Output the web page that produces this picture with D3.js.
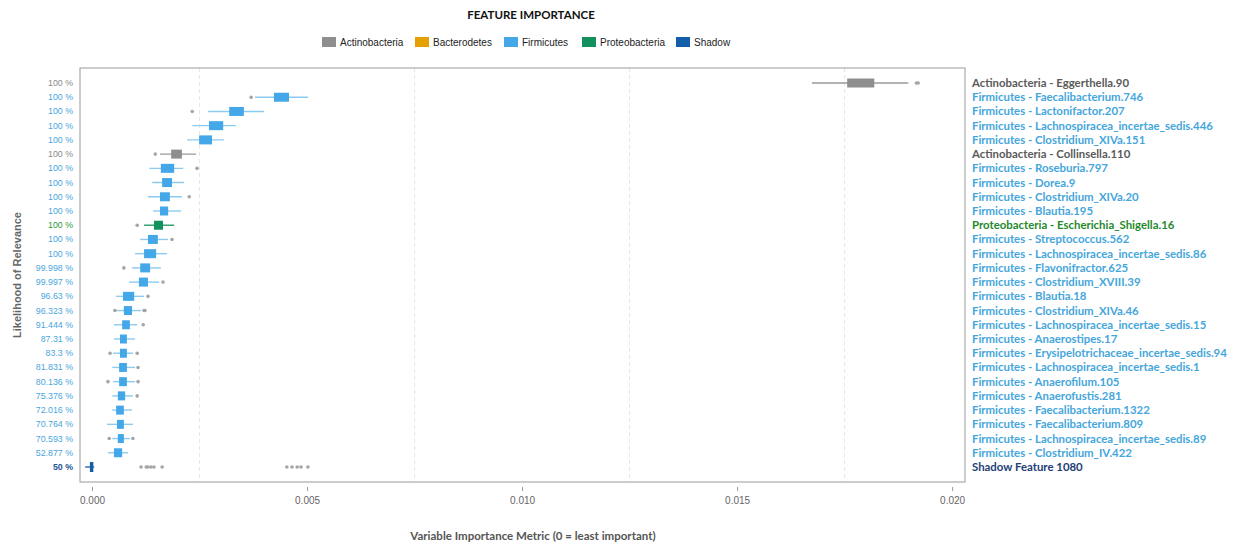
<!DOCTYPE html>
<html>
<head>
<meta charset="utf-8">
<script src="https://cdn.jsdelivr.net/npm/d3@7"></script>
<style>
  body { margin: 0; background: #fff; }
  svg { display: block; }
</style>
</head>
<body>
<svg id="chart" width="1238" height="543"></svg>
<script>
// ---------- DATA ----------
const features = [
  "Actinobacteria - Eggerthella.90",
  "Firmicutes - Faecalibacterium.746",
  "Firmicutes - Lactonifactor.207",
  "Firmicutes - Lachnospiracea_incertae_sedis.446",
  "Firmicutes - Clostridium_XIVa.151",
  "Actinobacteria - Collinsella.110",
  "Firmicutes - Roseburia.797",
  "Firmicutes - Dorea.9",
  "Firmicutes - Clostridium_XIVa.20",
  "Firmicutes - Blautia.195",
  "Proteobacteria - Escherichia_Shigella.16",
  "Firmicutes - Streptococcus.562",
  "Firmicutes - Lachnospiracea_incertae_sedis.86",
  "Firmicutes - Flavonifractor.625",
  "Firmicutes - Clostridium_XVIII.39",
  "Firmicutes - Blautia.18",
  "Firmicutes - Clostridium_XIVa.46",
  "Firmicutes - Lachnospiracea_incertae_sedis.15",
  "Firmicutes - Anaerostipes.17",
  "Firmicutes - Erysipelotrichaceae_incertae_sedis.94",
  "Firmicutes - Lachnospiracea_incertae_sedis.1",
  "Firmicutes - Anaerofilum.105",
  "Firmicutes - Anaerofustis.281",
  "Firmicutes - Faecalibacterium.1322",
  "Firmicutes - Faecalibacterium.809",
  "Firmicutes - Lachnospiracea_incertae_sedis.89",
  "Firmicutes - Clostridium_IV.422",
  "Shadow Feature 1080"
];
const phylum = [
  "Actinobacteria","Firmicutes","Firmicutes","Firmicutes","Firmicutes",
  "Actinobacteria","Firmicutes","Firmicutes","Firmicutes","Firmicutes",
  "Proteobacteria","Firmicutes","Firmicutes","Firmicutes","Firmicutes",
  "Firmicutes","Firmicutes","Firmicutes","Firmicutes","Firmicutes",
  "Firmicutes","Firmicutes","Firmicutes","Firmicutes","Firmicutes",
  "Firmicutes","Firmicutes","Shadow"
];
const relevance = [
  "100 %","100 %","100 %","100 %","100 %","100 %","100 %","100 %","100 %","100 %",
  "100 %","100 %","100 %","99.998 %","99.997 %","96.63 %","96.323 %","91.444 %",
  "87.31 %","83.3 %","81.831 %","80.136 %","75.376 %","72.016 %","70.764 %",
  "70.593 %","52.877 %","50 %"
];
// box statistics (units of 0.001)
const whiskerLow  = [16.74,3.79,2.70,2.33,2.21,1.58,1.33,1.40,1.30,1.42,1.21,1.12,1.00,0.93,0.86,0.56,0.56,0.51,0.51,0.49,0.47,0.49,0.47,0.47,0.35,0.47,0.37,-0.16];
const quart1      = [17.56,4.23,3.19,2.72,2.49,1.84,1.60,1.63,1.58,1.58,1.44,1.30,1.21,1.12,1.09,0.72,0.74,0.70,0.65,0.65,0.63,0.63,0.60,0.56,0.58,0.60,0.51,-0.05];
const quart3      = [18.19,4.58,3.53,3.05,2.79,2.09,1.91,1.86,1.81,1.77,1.65,1.53,1.49,1.35,1.30,0.98,0.93,0.88,0.81,0.81,0.81,0.81,0.77,0.74,0.74,0.74,0.70,0.03];
const whiskerHigh = [18.98,5.02,4.00,3.35,3.07,2.42,2.12,2.14,2.09,2.07,1.91,1.77,1.74,1.60,1.56,1.21,1.14,1.05,1.00,0.95,1.00,1.00,0.95,0.93,0.95,0.88,0.84,0.05];
const outliers = [
  [19.17,19.21],[3.70],[2.33],[],[],[1.47],[2.44],[],[2.26],[],
  [1.05],[1.86],[],[0.74],[1.65],[1.30],[0.53,1.21,1.23],[1.19],[],[0.42,1.05],
  [1.07],[0.37,1.07],[1.05],[],[],[0.40,0.95],[],
  [1.14,1.26,1.30,1.37,1.44,1.63,4.53,4.65,4.77,4.86,5.02]
];
const xTicks = [0, 0.005, 0.010, 0.015, 0.020];
const gridTicks = [0.0025, 0.0075, 0.0125, 0.0175];
const legendItems = ["Actinobacteria","Bacterodetes","Firmicutes","Proteobacteria","Shadow"];

// ---------- STYLE ----------
const boxFill  = {Actinobacteria:"#8e8e8e", Bacterodetes:"#e69f00", Firmicutes:"#44a7e8", Proteobacteria:"#12915f", Shadow:"#125ea8"};
const whiskCol = {Actinobacteria:"#9a9a9a", Bacterodetes:"#e69f00", Firmicutes:"#8ccaf0", Proteobacteria:"#2c9a66", Shadow:"#2a64a8"};
const leftCol  = {Actinobacteria:"#8a8a8a", Bacterodetes:"#e69f00", Firmicutes:"#4aa6dc", Proteobacteria:"#2a9a3c", Shadow:"#1f5696"};
const rightCol = {Actinobacteria:"#5a5a5a", Bacterodetes:"#e69f00", Firmicutes:"#45a6dc", Proteobacteria:"#1f8a2c", Shadow:"#1e4076"};

const svg = d3.select("#chart");
const pL = 80, pR = 965, pT = 68, pB = 482;

const x = d3.scaleLinear().domain([-0.00028, 0.0203]).range([pL, pR]);
const y = d3.scalePoint().domain(d3.range(features.length)).range([pT, pB]).padding(1.055);

// title
svg.append("text").attr("x", 531).attr("y", 19).attr("text-anchor", "middle")
  .style("font-family", "Lato, 'Open Sans', sans-serif").style("font-weight", "bold")
  .style("font-size", "11.5px").style("fill", "#111").text("FEATURE IMPORTANCE");

// legend
const legendX = [322, 415, 504, 582, 676];
const lg = svg.append("g");
legendItems.forEach((name, i) => {
  lg.append("rect").attr("x", legendX[i]).attr("y", 37).attr("width", 14).attr("height", 10)
    .attr("fill", boxFill[name]);
  lg.append("text").attr("x", legendX[i] + 18).attr("y", 46)
    .style("font-family", "'Liberation Sans', Arial, sans-serif").style("font-size", "10px")
    .style("fill", "#222").text(name);
});

// grid lines
svg.append("g").selectAll("line").data(gridTicks).join("line")
  .attr("x1", d => x(d)).attr("x2", d => x(d)).attr("y1", pT).attr("y2", pB)
  .attr("stroke", "#e6e6e6").attr("stroke-width", 1).attr("stroke-dasharray", "4,3");

// frame
svg.append("rect").attr("x", pL).attr("y", pT).attr("width", pR - pL).attr("height", pB - pT)
  .attr("fill", "none").attr("stroke", "#ababab").attr("stroke-width", 1.2);

// x axis
const xAxis = d3.axisBottom(x).tickValues(xTicks).tickFormat(d3.format(".3f")).tickSize(4).tickPadding(6);
const gx = svg.append("g").attr("transform", `translate(0,${pB + 5})`).call(xAxis);
gx.select(".domain").remove();
gx.selectAll(".tick line").attr("stroke", "#999");
gx.selectAll(".tick text").style("font-family", "'Liberation Sans', Arial, sans-serif")
  .style("font-size", "10px").style("fill", "#666");

// axis titles
svg.append("text").attr("x", 533).attr("y", 540).attr("text-anchor", "middle")
  .style("font-family", "Lato, 'Open Sans', sans-serif").style("font-weight", "bold")
  .style("font-size", "11.5px").style("fill", "#555")
  .text("Variable Importance Metric  (0 = least important)");
svg.append("text").attr("transform", "translate(21,275) rotate(-90)").attr("text-anchor", "middle")
  .style("font-family", "'Liberation Sans', Arial, sans-serif").style("font-weight", "bold")
  .style("font-size", "11px").style("fill", "#666").text("Likelihood of Relevance");

// boxes
const rows = features.map((f, i) => ({
  i, f, p: phylum[i], rel: relevance[i],
  lo: whiskerLow[i] / 1000, q1: quart1[i] / 1000, q3: quart3[i] / 1000, hi: whiskerHigh[i] / 1000,
  out: outliers[i].map(v => v / 1000)
}));

const g = svg.append("g");
const rg = g.selectAll("g.row").data(rows).join("g").attr("class", "row");
rg.append("line")
  .attr("x1", d => x(d.lo)).attr("x2", d => x(d.hi))
  .attr("y1", d => y(d.i)).attr("y2", d => y(d.i))
  .attr("stroke", d => whiskCol[d.p]).attr("stroke-width", 1.4);
rg.append("rect")
  .attr("x", d => x(d.q1)).attr("width", d => Math.max(2.5, x(d.q3) - x(d.q1)))
  .attr("y", d => y(d.i) - (d.p === "Shadow" ? 5 : 4.5))
  .attr("height", d => d.p === "Shadow" ? 10 : 9)
  .attr("fill", d => boxFill[d.p]);
rg.selectAll("circle").data(d => d.out.map(v => ({v, i: d.i}))).join("circle")
  .attr("cx", d => x(d.v)).attr("cy", d => y(d.i)).attr("r", 1.8).attr("fill", "#a5a5a5");

// left labels
svg.append("g").selectAll("text").data(rows).join("text")
  .attr("x", 73).attr("y", d => y(d.i) + 3).attr("text-anchor", "end")
  .style("font-family", "'Liberation Sans', Arial, sans-serif").style("font-size", "8.8px")
  .style("font-weight", d => d.p === "Shadow" ? "bold" : "normal")
  .style("fill", d => leftCol[d.p]).text(d => d.rel);

// right labels
svg.append("g").selectAll("text").data(rows).join("text")
  .attr("x", 972).attr("y", d => y(d.i) + 4)
  .style("font-family", "Lato, 'Open Sans', sans-serif").style("font-size", "11.4px")
  .style("font-weight", "bold")
  .style("fill", d => rightCol[d.p]).text(d => d.f);
</script>
</body>
</html>
